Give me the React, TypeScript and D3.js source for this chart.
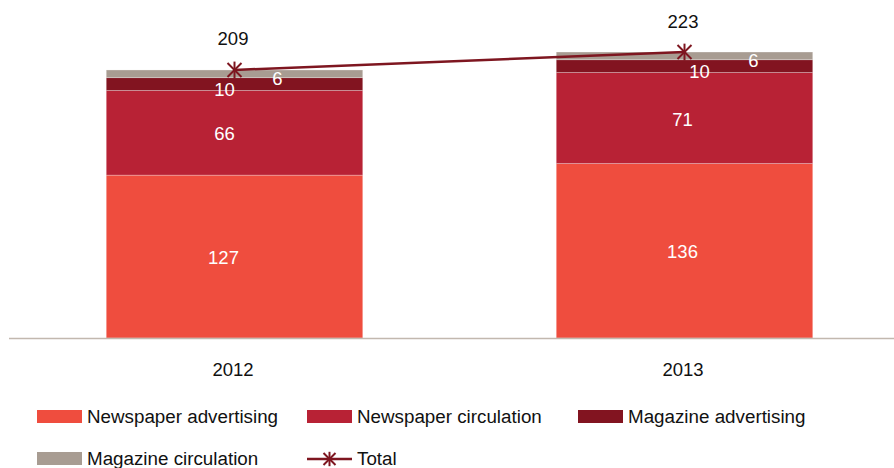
import React from "react";
import * as d3 from "d3";

const years = ["2012", "2013"];
const seriesNames = ["Newspaper advertising", "Newspaper circulation", "Magazine advertising", "Magazine circulation"];
const newspaperAdvertising = [127, 136];
const newspaperCirculation = [66, 71];
const magazineAdvertising = [10, 10];
const magazineCirculation = [6, 6];
const totals = [209, 223];
const seriesColors = ["#EF4D3E", "#B82235", "#821420", "#A89C92"];
const lineColor = "#7E1620";
// small label nudges [dx, dy] per series per year
const labelNudges = [
  [[-11, 1], [-2, 1]],
  [[-10, 1], [-2, 1]],
  [[-10, 5], [15, 5]],
  [[43, 5], [69, 5]],
];

const W = 894;
const H = 468;
const FONT = "'Liberation Sans', Arial, Helvetica, sans-serif";

export default function App() {
  const values = [newspaperAdvertising, newspaperCirculation, magazineAdvertising, magazineCirculation];
  const rows = years.map((y, i) => {
    const r: any = { year: y };
    seriesNames.forEach((s, k) => (r[s] = values[k][i]));
    return r;
  });
  const stacked = d3.stack().keys(seriesNames)(rows);

  const x = d3.scaleBand().domain(years).range([9.5, 909.5]).paddingInner(0.43).paddingOuter(0.215);
  const y = d3.scaleLinear().domain([0, 250]).range([338, 17.4]);
  const bw = x.bandwidth();
  const cx = (yr: string) => (x(yr) as number) + bw / 2;

  const linePath = d3.line<number>().x((_, i) => cx(years[i])).y((d) => y(d))(totals) as string;

  const star = (px: number, py: number, r: number, key: string, sw = 2) => (
    <g key={key} stroke={lineColor} strokeWidth={sw}>
      <line x1={px - r} y1={py - r} x2={px + r} y2={py + r} />
      <line x1={px - r} y1={py + r} x2={px + r} y2={py - r} />
      <line x1={px} y1={py - r * 1.2} x2={px} y2={py + r * 1.2} />
    </g>
  );

  const legendItems = [
    { name: seriesNames[0], type: "rect", color: seriesColors[0], lx: 37, ly: 410 },
    { name: seriesNames[1], type: "rect", color: seriesColors[1], lx: 307, ly: 410 },
    { name: seriesNames[2], type: "rect", color: seriesColors[2], lx: 578, ly: 410 },
    { name: seriesNames[3], type: "rect", color: seriesColors[3], lx: 37, ly: 452 },
    { name: "Total", type: "line", color: lineColor, lx: 307, ly: 452 },
  ];

  return (
    <svg width={W} height={H} style={{ position: "absolute", left: 0, top: 0, fontFamily: FONT }}>
      <rect width={W} height={H} fill="#fff" />
      {stacked.map((layer, k) => (
        <g key={layer.key}>
          {layer.map((d, i) => (
            <rect
              key={i}
              x={x(years[i])}
              y={y(d[1])}
              width={bw}
              height={y(d[0]) - y(d[1])}
              fill={seriesColors[k]}
              stroke="rgba(255,255,255,0.35)"
              strokeWidth={0.8}
            />
          ))}
        </g>
      ))}
      <line x1={9} x2={W} y1={y(0) + 0.5} y2={y(0) + 0.5} stroke="#C2B8AF" strokeWidth={1.5} />
      {stacked.map((layer, k) => (
        <g key={"l" + layer.key}>
          {layer.map((d, i) => (
            <text
              key={i}
              x={cx(years[i]) + labelNudges[k][i][0]}
              y={(y(d[0]) + y(d[1])) / 2 + labelNudges[k][i][1]}
              textAnchor="middle"
              dominantBaseline="central"
              fill="#fff"
              fontSize={18.5}
            >
              {values[k][i]}
            </text>
          ))}
        </g>
      ))}
      <path d={linePath} fill="none" stroke={lineColor} strokeWidth={2.5} />
      {totals.map((t, i) => star(cx(years[i]), y(t), 7, "s" + i, 2))}
      {totals.map((t, i) => (
        <text key={"t" + i} x={cx(years[i]) - 1.5} y={y(t) - 31} textAnchor="middle" dominantBaseline="central" fontSize={18.5} fill="#111">
          {t}
        </text>
      ))}
      {years.map((yr) => (
        <text key={yr} x={cx(yr) - 1.5} y={369} textAnchor="middle" dominantBaseline="central" fontSize={18.5} fill="#111">
          {yr}
        </text>
      ))}
      {legendItems.map((it) => (
        <g key={it.name}>
          {it.type === "rect" ? (
            <rect x={it.lx} y={it.ly} width={45} height={13} fill={it.color} />
          ) : (
            <g>
              <line x1={it.lx} x2={it.lx + 45} y1={it.ly + 7} y2={it.ly + 7} stroke={it.color} strokeWidth={2.4} />
              {star(it.lx + 22.5, it.ly + 7, 6, "ls", 2)}
            </g>
          )}
          <text x={it.lx + 50} y={it.ly + 13} fontSize={18.8} fill="#111">
            {it.name}
          </text>
        </g>
      ))}
    </svg>
  );
}
